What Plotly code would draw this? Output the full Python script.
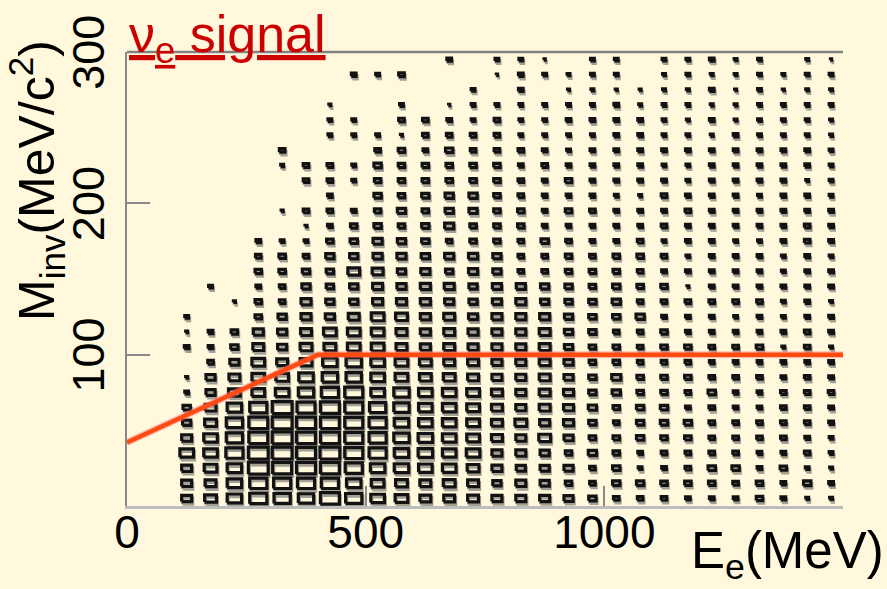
import plotly.graph_objects as go

# ---------------- data ----------------
E_bins = [125, 175, 225, 275, 325, 375, 425, 475, 525, 575, 625, 675, 725, 775,
          825, 875, 925, 975, 1025, 1075, 1125, 1175, 1225, 1275, 1325, 1375, 1425, 1475]
M_bins = [5, 15, 25, 35, 45, 55, 65, 75, 85, 95, 105, 115, 125, 135, 145,
          155, 165, 175, 185, 195, 205, 215, 225, 235, 245, 255, 265, 275, 285, 295]

# bin contents (rows = M bins bottom->top, columns = E bins left->right)
counts = [
    [12,14,17,20,19,18,22,19,16,15,13,13,13,12, 12,12,11,9,7,7,7,6,6,6,8,6,4,4],
    [12,13,17,20,20,20,20,17,15,14,13,14,13,10, 12,11,8,7,9,9,8,8,8,7,8,6,9,6],
    [12,15,17,23,22,22,22,20,17,17,16,16,14,12, 11,11,11,7,9,5,6,7,9,9,6,8,5,4],
    [16,16,20,23,23,22,23,21,20,17,17,16,16,12, 12,11,8,10,8,6,7,7,7,7,6,6,7,5],
    [12,16,19,22,23,22,22,21,20,18,17,16,15,13, 12,14,11,8,8,9,8,8,7,7,7,7,6,5],
    [10,14,19,22,23,22,22,21,20,17,16,16,15,13, 14,12,12,9,7,9,9,9,7,7,7,7,7,6],
    [9,13,17,20,23,21,22,21,19,18,16,16,15,13, 12,13,12,10,8,9,9,6,7,6,6,7,7,6],
    [5,11,14,15,16,18,20,21,16,18,16,16,15,13, 12,13,12,9,10,8,8,7,9,6,6,7,7,7],
    [3,11,13,15,15,17,18,18,16,15,14,14,13,12, 12,13,11,9,11,8,8,8,7,7,7,6,7,6],
    [0,7,11,15,13,14,17,18,16,15,14,13,13,12, 12,13,11,8,8,7,7,7,6,6,6,6,6,6],
    [6,6,9,13,11,14,14,15,15,13,12,13,12,12, 12,13,10,8,8,7,8,8,7,7,8,4,7,4],
    [3,6,8,12,11,13,15,15,15,13,12,13,12,12, 12,13,10,9,7,7,8,6,6,6,6,6,7,6],
    [5,0,0,8,10,12,11,13,15,14,12,13,11,12, 12,12,10,9,9,10,6,6,6,5,6,5,6,6],
    [0,0,3,8,7,12,10,10,12,12,12,11,10,11, 12,10,9,9,10,7,7,7,7,7,7,5,6,4],
    [0,5,0,6,7,10,9,10,12,11,12,12,10,11, 11,10,9,8,9,8,8,3,6,6,6,6,6,6],
    [0,0,0,8,8,9,9,14,13,10,11,9,11,10, 7,7,8,8,8,7,6,6,6,6,6,5,6,6],
    [0,0,0,7,8,7,10,10,11,11,10,11,11,10, 7,7,8,7,8,8,7,5,6,6,6,5,6,5],
    [0,0,0,6,5,5,8,9,11,10,9,7,8,8, 7,9,7,6,6,7,5,6,6,5,5,6,7,6],
    [0,0,0,0,0,3,6,8,9,8,9,11,8,8, 8,6,6,6,6,6,7,6,6,6,6,6,7,6],
    [0,0,0,0,3,7,7,6,8,10,8,10,10,8, 8,6,8,7,6,6,6,7,6,6,6,6,6,6],
    [0,0,0,0,0,0,6,0,9,8,9,10,10,8, 7,6,6,6,5,4,7,6,6,6,5,6,6,5],
    [0,0,0,0,0,7,7,5,8,8,8,8,8,8, 7,6,8,6,6,6,6,5,6,6,6,6,4,5],
    [0,0,0,0,4,7,7,5,9,8,8,8,8,8, 6,7,6,6,6,6,5,5,6,6,6,6,6,5],
    [0,0,0,0,7,0,0,0,7,8,6,9,7,7, 7,6,5,6,6,6,6,6,6,6,6,6,6,5],
    [0,0,0,0,0,0,5,5,5,3,7,7,7,7, 5,5,5,5,6,6,5,5,4,6,5,5,5,4],
    [0,0,0,0,0,0,5,5,0,7,7,6,5,7, 5,5,6,6,6,6,5,4,6,4,5,5,5,4],
    [0,0,0,0,0,0,3,0,0,5,0,2,5,5, 5,5,5,5,6,4,5,5,4,4,5,5,5,5],
    [0,0,0,0,0,0,0,0,0,0,0,0,5,0, 6,0,3,4,3,3,4,4,6,3,5,3,4,4],
    [0,0,0,0,0,0,0,6,5,7,0,0,0,2, 6,5,4,5,5,0,4,5,4,4,5,4,5,5],
    [0,0,0,0,0,0,0,0,0,0,0,6,0,5, 5,2,0,5,5,0,5,5,6,4,5,0,4,2],
]

# nu_e selection cut line
cut_E = [0, 400, 1500]
cut_M = [42, 100, 100]

x_ticks = [0, 500, 1000]
y_ticks = [100, 200, 300]

# ---------------- layout constants ----------------
W, H = 887, 589
ML, MR, MT, MB = 127, 44, 52, 83
XR = [0, 1500]
YR = [0, 300]
BW, BH = 50.0, 10.0
PXX = (W - ML - MR) / (XR[1] - XR[0])
PXY = (H - MT - MB) / (YR[1] - YR[0])
CMAX = 23.0
STROKE = 3.2
BG = "#FFF8DC"


def rect_paths(dx_px=0.0, dy_px=0.0):
    xs, ys = [], []
    for j, m in enumerate(M_bins):
        for i, e in enumerate(E_bins):
            c = counts[j][i]
            if c <= 0:
                continue
            frac = c / CMAX
            vis_w = 2.5 + frac * 0.86 * BW * PXX
            vis_h = 1.8 + 0.58 * vis_w
            gw = max(vis_w - STROKE, 1.2)
            gh = max(vis_h - STROKE, 1.2)
            hx = gw / 2 / PXX
            hy = gh / 2 / PXY
            cx = e + dx_px / PXX
            cy = m + dy_px / PXY
            xs += [cx - hx, cx + hx, cx + hx, cx - hx, cx - hx, None]
            ys += [cy - hy, cy - hy, cy + hy, cy + hy, cy - hy, None]
    return xs, ys


fig = go.Figure()

sx, sy = rect_paths(1.0, -2.6)
fig.add_trace(go.Scatter(x=sx, y=sy, mode="lines", hoverinfo="skip",
                         line=dict(color="rgba(100,100,100,0.6)", width=STROKE),
                         showlegend=False))
bx, by = rect_paths()
fig.add_trace(go.Scatter(x=bx, y=by, mode="lines", hoverinfo="skip",
                         line=dict(color="#121212", width=STROKE),
                         showlegend=False))

fig.add_trace(go.Scatter(x=cut_E, y=cut_M, mode="lines", hoverinfo="skip",
                         line=dict(color="rgba(255,120,120,0.45)", width=7),
                         showlegend=False))
fig.add_trace(go.Scatter(x=cut_E, y=cut_M, mode="lines", hoverinfo="skip",
                         line=dict(color="#FF4A12", width=4.5),
                         showlegend=False))

FONT = "Liberation Sans, Arial, sans-serif"

fig.update_layout(
    width=W, height=H,
    margin=dict(l=ML, r=MR, t=MT, b=MB, pad=0),
    paper_bgcolor=BG, plot_bgcolor=BG,
    font=dict(family=FONT, color="black"),
    xaxis=dict(range=XR, tickvals=x_ticks, ticktext=[str(v) for v in x_ticks],
               ticks="inside", ticklen=20, tickwidth=2, tickcolor="#8a8a8a",
               showline=True, linecolor="#BDBDBD", linewidth=3,
               showgrid=False, zeroline=False,
               tickfont=dict(size=46, family=FONT, color="black"),
               ticklabelstandoff=-16),
    yaxis=dict(range=YR, tickvals=y_ticks, ticktext=[str(v) for v in y_ticks],
               ticks="inside", ticklen=23, tickwidth=2, tickcolor="#8a8a8a",
               showline=True, linecolor="#888888", linewidth=2,
               showgrid=False, zeroline=False, tickangle=-90,
               tickfont=dict(size=45, family=FONT, color="black"),
               ticklabelstandoff=3, ticklabelshift=7),
    shapes=[dict(type="line", xref="paper", yref="paper", x0=0, x1=1, y0=1, y1=1,
                 line=dict(color="#828282", width=2.5))],
)


def px_x(p):
    return (p - ML) / (W - ML - MR)


def px_y(p):
    return (H - MB - p) / (H - MT - MB)


fig.add_annotation(text="<u>ν<sub>e</sub> signal</u>", xref="paper", yref="paper",
                   x=px_x(127), y=px_y(73), xanchor="left", yanchor="bottom",
                   showarrow=False, font=dict(size=52, color="#CC0000", family=FONT))
fig.add_annotation(text="M<sub>inv</sub>(MeV/c<sup>2</sup>)", xref="paper", yref="paper",
                   x=px_x(36), y=px_y(181), xanchor="center", yanchor="middle",
                   textangle=-90, showarrow=False,
                   font=dict(size=50, color="black", family=FONT))
fig.add_annotation(text="E<sub>e</sub>(MeV)", xref="paper", yref="paper",
                   x=px_x(886), y=px_y(589), xanchor="right", yanchor="bottom",
                   showarrow=False, font=dict(size=51, color="black", family=FONT))

fig.write_html("out.html")
